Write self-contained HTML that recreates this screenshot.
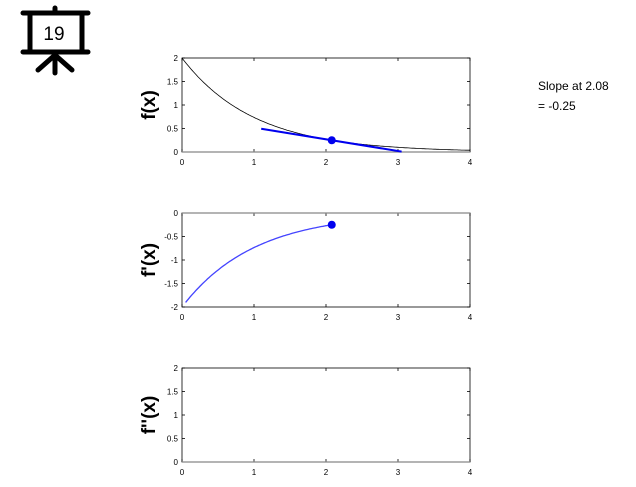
<!DOCTYPE html><html><head><style>body{margin:0;background:#fff}svg{font-family:"Liberation Sans",sans-serif}</style></head><body>
<svg id="s" width="636" height="482" xmlns="http://www.w3.org/2000/svg">
<g stroke="#000" stroke-width="5" fill="none" stroke-linecap="round">
<line x1="23" y1="13" x2="88" y2="13"/><line x1="23" y1="52" x2="88" y2="52"/>
<line x1="30" y1="13" x2="30" y2="52"/><line x1="82" y1="13" x2="82" y2="52"/>
<line x1="55" y1="8" x2="55" y2="13"/>
<line x1="55" y1="52" x2="55" y2="73"/><line x1="55" y1="55" x2="38" y2="70"/><line x1="55" y1="55" x2="72" y2="70"/>
</g>
<text x="54" y="40" font-size="19" text-anchor="middle">19</text>
<text x="538" y="90" font-size="12">Slope at 2.08</text>
<text x="538" y="110" font-size="12">= -0.25</text>
<g id="axes"></g>
</svg>
<script>
const g=document.getElementById('axes');let h='';
const X=x=>182+72*x;
const panels=[{top:58,labels:['2','1.5','1','0.5','0'],yl:'f(x)'},{top:213,labels:['0','-0.5','-1','-1.5','-2'],yl:"f'(x)"},{top:368,labels:['2','1.5','1','0.5','0'],yl:"f''(x)"}];
panels.forEach(p=>{const t=p.top,b=t+94;
h+=`<rect x="182" y="${t}" width="288" height="94" fill="none" stroke="#000" stroke-width="0.8"/>`;
for(let i=0;i<=4;i++){const x=X(i);h+=`<line x1="${x}" y1="${b}" x2="${x}" y2="${b-3}" stroke="#000" stroke-width="0.8"/><line x1="${x}" y1="${t}" x2="${x}" y2="${t+3}" stroke="#000" stroke-width="0.8"/><text x="${x}" y="${b+13}" font-size="8" text-anchor="middle">${i}</text>`;}
p.labels.forEach((l,i)=>{const y=t+23.5*i;h+=`<line x1="182" y1="${y}" x2="185" y2="${y}" stroke="#000" stroke-width="0.8"/><line x1="470" y1="${y}" x2="467" y2="${y}" stroke="#000" stroke-width="0.8"/><text x="178" y="${y+3}" font-size="8" text-anchor="end">${l}</text>`;});
const cy=t+47;h+=`<text transform="translate(155,${cy}) rotate(-90)" font-size="19" font-weight="bold" text-anchor="middle">${p.yl}</text>`;
});
h+=`<line x1="182" y1="152" x2="470" y2="152" stroke="#888" stroke-width="1.2"/><line x1="182" y1="213" x2="470" y2="213" stroke="#888" stroke-width="1.2"/><line x1="182" y1="462" x2="470" y2="462" stroke="#888" stroke-width="1.2"/>`;
let p1='',p2='';for(let i=0;i<=200;i++){const x=4*i/200;p1+=(i?'L':'M')+X(x).toFixed(1)+','+(152-47*2*Math.exp(-x)).toFixed(1);}
for(let i=0;i<=100;i++){const x=0.05+(2.08-0.05)*i/100;p2+=(i?'L':'M')+X(x).toFixed(1)+','+(213+47*2*Math.exp(-x)).toFixed(1);}
h+=`<path d="${p1}" fill="none" stroke="#000" stroke-width="0.8"/><path d="${p2}" fill="none" stroke="#4444ff" stroke-width="1.3"/>`;
const f=x=>0.25-0.25*(x-2.08);
h+=`<line x1="${X(1.1)}" y1="${152-47*f(1.1)}" x2="${X(3.05)}" y2="${152-47*f(3.05)}" stroke="#0000ee" stroke-width="2"/>`;
h+=`<circle cx="${X(2.08)}" cy="${152-47*0.25}" r="4" fill="#0000ee"/><circle cx="${X(2.08)}" cy="${213+47*0.25}" r="4" fill="#0000ee"/>`;
g.innerHTML=h;
</script></body></html>
